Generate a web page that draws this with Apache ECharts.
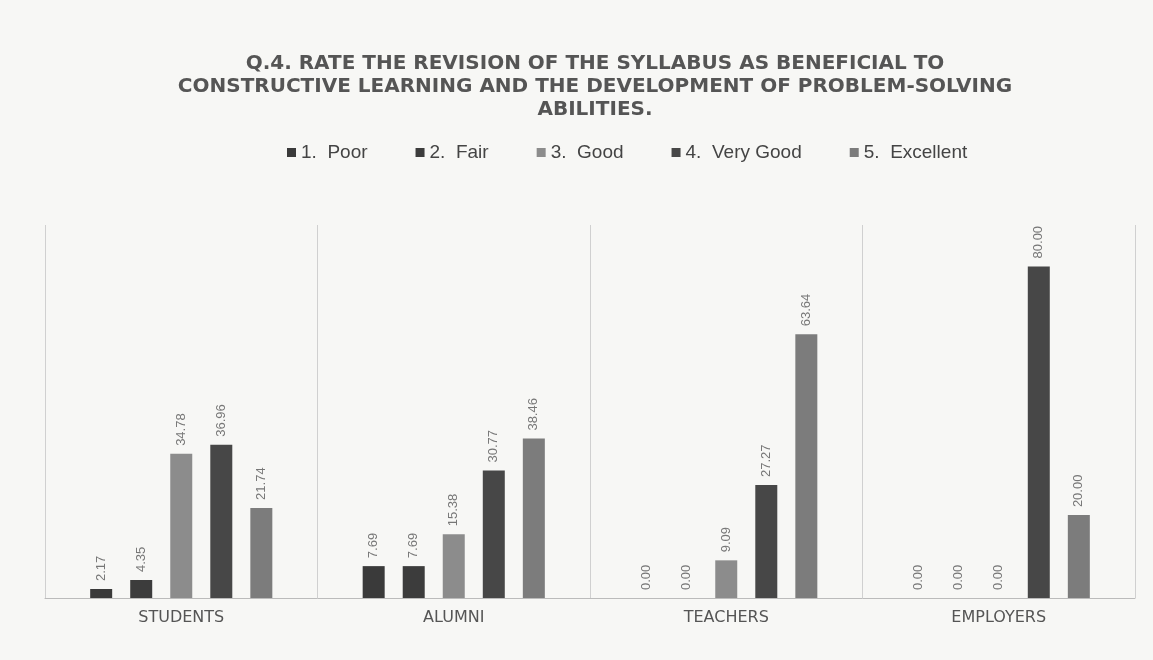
<!DOCTYPE html>
<html><head><meta charset="utf-8">
<script src="https://cdn.jsdelivr.net/npm/echarts@6/dist/echarts.min.js"></script>
<style>html,body{margin:0;padding:0;background:#f7f7f5;}#c{width:1153px;height:660px;}</style>
</head><body><div id="c"></div>
<script>
const categories = ['STUDENTS', 'ALUMNI', 'TEACHERS', 'EMPLOYERS'];
const seriesNames = ['1.  Poor', '2.  Fair', '3.  Good', '4.  Very Good', '5.  Excellent'];
const poor = [2.17, 7.69, 0.00, 0.00];
const fair = [4.35, 7.69, 0.00, 0.00];
const good = [34.78, 15.38, 9.09, 0.00];
const veryGood = [36.96, 30.77, 27.27, 80.00];
const excellent = [21.74, 38.46, 63.64, 20.00];
const seriesValues = [poor, fair, good, veryGood, excellent];
const colors = ['#3a3a3a', '#3c3c3c', '#8c8c8c', '#474747', '#7c7c7c'];

const chart = echarts.init(document.getElementById('c'));
chart.setOption({
  backgroundColor: '#f7f7f5',
  color: colors,
  title: {
    text: 'Q.4. RATE THE REVISION OF THE SYLLABUS AS BENEFICIAL TO\nCONSTRUCTIVE LEARNING AND THE DEVELOPMENT OF PROBLEM-SOLVING\nABILITIES.',
    left: 590, top: 47, textAlign: 'center',
    textStyle: { fontFamily: 'DejaVu Sans', fontWeight: 'bold', fontSize: 20, color: '#555', lineHeight: 23 }
  },
  legend: {
    top: 138, left: 282, itemWidth: 9, itemHeight: 9, itemGap: 48, icon: 'rect',
    textStyle: { fontFamily: 'Liberation Sans', fontSize: 19, color: '#444' }
  },
  grid: { left: 45, right: 18, top: 225, bottom: 62 },
  xAxis: {
    type: 'category', data: categories,
    axisTick: { show: false },
    axisLine: { lineStyle: { color: '#bbb' } },
    splitLine: { show: true, interval: 0, lineStyle: { color: '#d0d0d0' } },
    axisLabel: { fontFamily: 'DejaVu Sans', fontSize: 16, color: '#555', margin: 12 }
  },
  yAxis: { type: 'value', min: 0, max: 90, show: false, splitLine: { show: false } },
  series: seriesValues.map((vals, i) => ({
    name: seriesNames[i], type: 'bar', data: vals, barWidth: 22, barGap: '82%',
    label: {
      show: true, position: 'top', rotate: 90, align: 'left', verticalAlign: 'middle', distance: 8,
      formatter: p => p.value.toFixed(2),
      fontFamily: 'Liberation Sans', fontSize: 13, color: '#777'
    }
  }))
});
</script></body></html>
